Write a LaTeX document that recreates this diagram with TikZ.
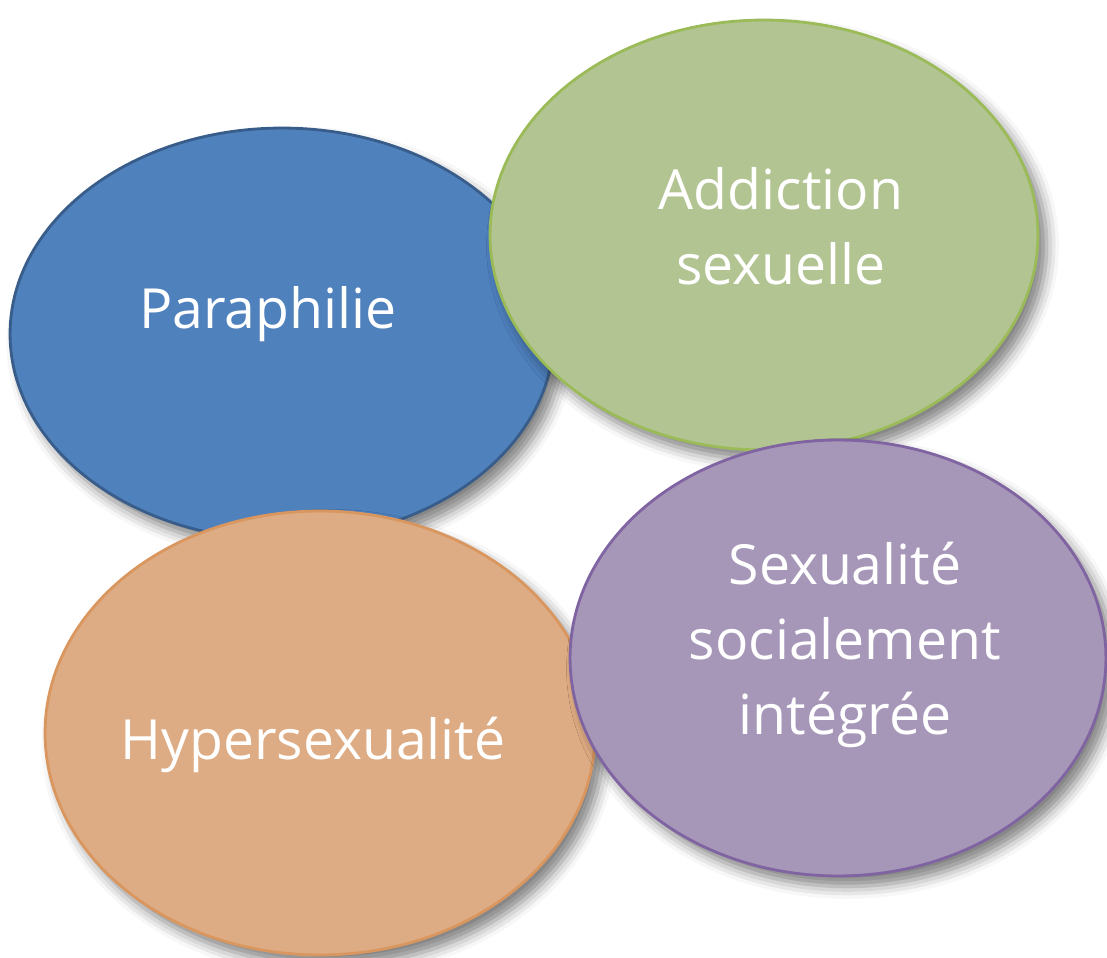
\documentclass[tikz,border=0pt]{standalone}
\usepackage{fontspec}
\setmainfont{Open Sans}
\usetikzlibrary{shapes.geometric,shadows.blur}
\definecolor{bluefill}{HTML}{4F81BD}
\definecolor{blueline}{HTML}{385D8A}
\definecolor{greenfill}{HTML}{B3C493}
\definecolor{greenline}{HTML}{9BBB59}
\definecolor{orangefill}{HTML}{DEAC84}
\definecolor{orangeline}{HTML}{D9965E}
\definecolor{purplefill}{HTML}{A697B9}
\definecolor{purpleline}{HTML}{8064A2}
\tikzset{
  bubble/.style={ellipse,draw,line width=1.6pt,inner sep=0pt,outer sep=0pt,
    blur shadow={shadow xshift=5pt,shadow yshift=-6pt,shadow blur radius=7pt,shadow opacity=50}},
  bubbletext/.style={text=white,align=center,font=\fontsize{31.5}{42.5}\selectfont}
}
\begin{document}
\begin{tikzpicture}[x=0.02cm,y=-0.02cm]
\useasboundingbox (0,0) rectangle (1107,958);
\node[bubble,fill=bluefill,draw=blueline,minimum width=10.88cm,minimum height=8.24cm] (para) at (282,334) {};
\node[bubble,fill=greenfill,draw=greenline,minimum width=10.96cm,minimum height=8.6cm] (addic) at (764,235) {};
\node[bubble,fill=orangefill,draw=orangeline,minimum width=11cm,minimum height=8.88cm] (hyper) at (320,733) {};
\node[bubble,fill=purplefill,draw=purpleline,minimum width=10.72cm,minimum height=8.72cm] (socia) at (838,658) {};
% texts
\node[bubbletext] (paraText) at (268,314) {Paraphilie};
\node[bubbletext] (addicText) at (781,226) {Addiction\\sexuelle};
\node[bubbletext] (hyperText) at (313,745) {Hypersexualité};
\node[bubbletext] (sociaText) at (845,645) {Sexualité\\socialement\\intégrée};
\end{tikzpicture}
\end{document}
